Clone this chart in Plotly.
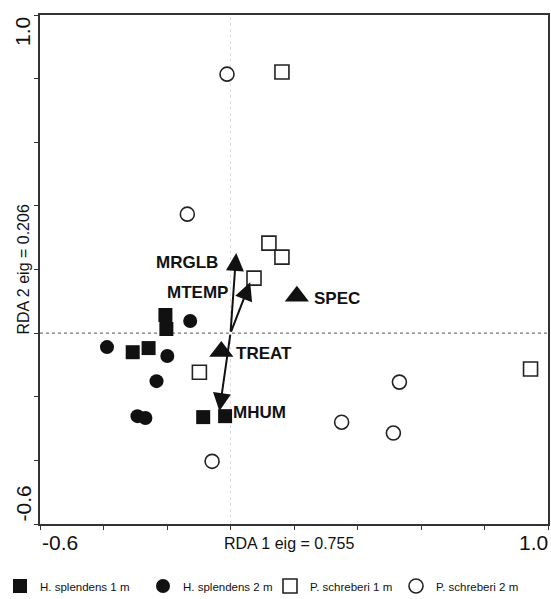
import plotly.graph_objects as go

# ---- data (RDA site scores) ----
hs1_x = [-0.205, -0.202, -0.258, -0.308, -0.086, -0.017]
hs1_y = [0.057, 0.013, -0.047, -0.060, -0.264, -0.261]

hs2_x = [-0.389, -0.127, -0.199, -0.233, -0.293, -0.268]
hs2_y = [-0.044, 0.038, -0.072, -0.151, -0.261, -0.267]

ps1_x = [0.162, 0.121, 0.162, 0.074, -0.098, 0.945]
ps1_y = [0.821, 0.283, 0.239, 0.173, -0.123, -0.113]

ps2_x = [-0.011, -0.136, 0.532, 0.350, 0.513, -0.058]
ps2_y = [0.814, 0.374, -0.154, -0.280, -0.314, -0.403]

# nominal (centroid) variables
cent_names = ["SPEC", "TREAT"]
cent_x = [0.209, -0.029]
cent_y = [0.116, -0.058]

# continuous variables (arrows from origin)
arrow_names = ["MRGLB", "MTEMP", "MHUM"]
arrow_x = [0.018, 0.062, -0.035]
arrow_y = [0.252, 0.160, -0.245]

group_names = ["H. splendens 1 m", "H. splendens 2 m", "P. schreberi 1 m", "P. schreberi 2 m"]

x_range = [-0.6, 1.0]
y_range = [-0.6, 1.0]
x_title = "RDA 1 eig = 0.755"
y_title = "RDA 2 eig = 0.206"

FONT = "Arial, 'Liberation Sans', sans-serif"
INK = "#111111"

fig = go.Figure()

styles = [
    dict(symbol="square", color=INK, line=dict(color=INK, width=0)),
    dict(symbol="circle", color=INK, line=dict(color=INK, width=0)),
    dict(symbol="square", color="white", line=dict(color="#222222", width=1.6)),
    dict(symbol="circle", color="white", line=dict(color="#222222", width=1.6)),
]
series = [(hs1_x, hs1_y), (hs2_x, hs2_y), (ps1_x, ps1_y), (ps2_x, ps2_y)]
legend_ids = ["legend", "legend2", "legend3", "legend4"]
for (xs, ys), name, st, lg in zip(series, group_names, styles, legend_ids):
    fig.add_trace(go.Scatter(
        x=xs, y=ys, mode="markers", name=name, legend=lg,
        marker=dict(size=14, **st), showlegend=True,
    ))

# arrows
for nm, ex, ey in zip(arrow_names, arrow_x, arrow_y):
    fig.add_annotation(
        x=ex, y=ey, ax=0, ay=0, xref="x", yref="y", axref="x", ayref="y",
        showarrow=True, arrowhead=2, arrowsize=1.8, arrowwidth=2, arrowcolor=INK,
        text="",
    )

# centroids
fig.add_trace(go.Scatter(
    x=cent_x, y=cent_y, mode="markers", showlegend=False,
    marker=dict(symbol="triangle-up", size=21, color=INK),
))

# text labels for variables
label_font = dict(family=FONT, size=17, color=INK, weight="bold")
fig.add_annotation(x=arrow_x[0], y=arrow_y[0], xref="x", yref="y", text="<b>MRGLB</b>",
                   showarrow=False, xanchor="right", yanchor="middle", xshift=-16, yshift=-10, font=label_font)
fig.add_annotation(x=arrow_x[1], y=arrow_y[1], xref="x", yref="y", text="<b>MTEMP</b>",
                   showarrow=False, xanchor="right", yanchor="middle", xshift=-20, yshift=-10, font=label_font)
fig.add_annotation(x=arrow_x[2], y=arrow_y[2], xref="x", yref="y", text="<b>MHUM</b>",
                   showarrow=False, xanchor="left", yanchor="middle", xshift=12, yshift=-1, font=label_font)
fig.add_annotation(x=cent_x[0], y=cent_y[0], xref="x", yref="y", text="<b>SPEC</b>",
                   showarrow=False, xanchor="left", yanchor="middle", xshift=15, yshift=-2, font=label_font)
fig.add_annotation(x=cent_x[1], y=cent_y[1], xref="x", yref="y", text="<b>TREAT</b>",
                   showarrow=False, xanchor="left", yanchor="middle", xshift=13, yshift=-2, font=label_font)

# zero lines
fig.add_shape(type="line", xref="x", yref="y", x0=x_range[0], x1=x_range[1], y0=0, y1=0,
              line=dict(color="#555555", width=1, dash="dot"), layer="below")
fig.add_shape(type="line", xref="x", yref="y", x0=0, x1=0, y0=y_range[0], y1=y_range[1],
              line=dict(color="#dedede", width=1, dash="dot"), layer="below")

# end tick labels
end_font = dict(family=FONT, size=21, color=INK)
fig.add_annotation(x=0, y=0, xref="paper", yref="paper", text=f"{x_range[0]:.1f}", showarrow=False,
                   xanchor="left", yanchor="top", yshift=-5, font=end_font)
fig.add_annotation(x=1, y=0, xref="paper", yref="paper", text=f"{x_range[1]:.1f}", showarrow=False,
                   xanchor="right", yanchor="top", xshift=2, yshift=-5, font=end_font)
fig.add_annotation(x=0, y=1, xref="paper", yref="paper", text=f"{y_range[1]:.1f}", showarrow=False,
                   xanchor="right", yanchor="top", xshift=-4, textangle=-90, font=end_font)
fig.add_annotation(x=0, y=0, xref="paper", yref="paper", text=f"{y_range[0]:.1f}", showarrow=False,
                   xanchor="right", yanchor="bottom", xshift=-4, textangle=-90, font=end_font)

# axis titles
title_font = dict(family=FONT, size=16, color=INK)
fig.add_annotation(x=(290 - 40) / 510, y=0, xref="paper", yref="paper", text=x_title, showarrow=False,
                   font=title_font, xanchor="center", yanchor="top", yshift=-9)
fig.add_annotation(x=0, y=(524 - 270) / 509, xref="paper", yref="paper", text=y_title, showarrow=False,
                   font=title_font, xanchor="right", yanchor="middle", xshift=-7, textangle=-90)

ticks = [round(-0.6 + 0.2 * i, 1) for i in range(9)]
axis_common = dict(showline=True, linecolor="#333333", linewidth=1.5, mirror=True,
                   ticks="outside", ticklen=4, tickwidth=1, tickcolor="#333333",
                   tickvals=ticks, showticklabels=False, showgrid=False, zeroline=False)
fig.update_xaxes(range=x_range, **axis_common)
fig.update_yaxes(range=y_range, **axis_common)

leg_font = dict(family=FONT, size=11.5, color=INK)
marker_centres = [19, 163, 290, 416]
leg_cfg = {}
for lg, mc in zip(legend_ids, marker_centres):
    leg_cfg[lg] = dict(xref="container", yref="container", x=(mc - 20) / 551, y=1 - 586 / 599,
                       xanchor="left", yanchor="middle", orientation="h", font=leg_font,
                       bgcolor="rgba(0,0,0,0)", itemsizing="trace")

fig.update_layout(
    width=551, height=599,
    margin=dict(l=40, r=1, t=15, b=75),
    plot_bgcolor="white", paper_bgcolor="white",
    font=dict(family=FONT, color=INK),
    **leg_cfg,
)

fig.write_html("out.html")
